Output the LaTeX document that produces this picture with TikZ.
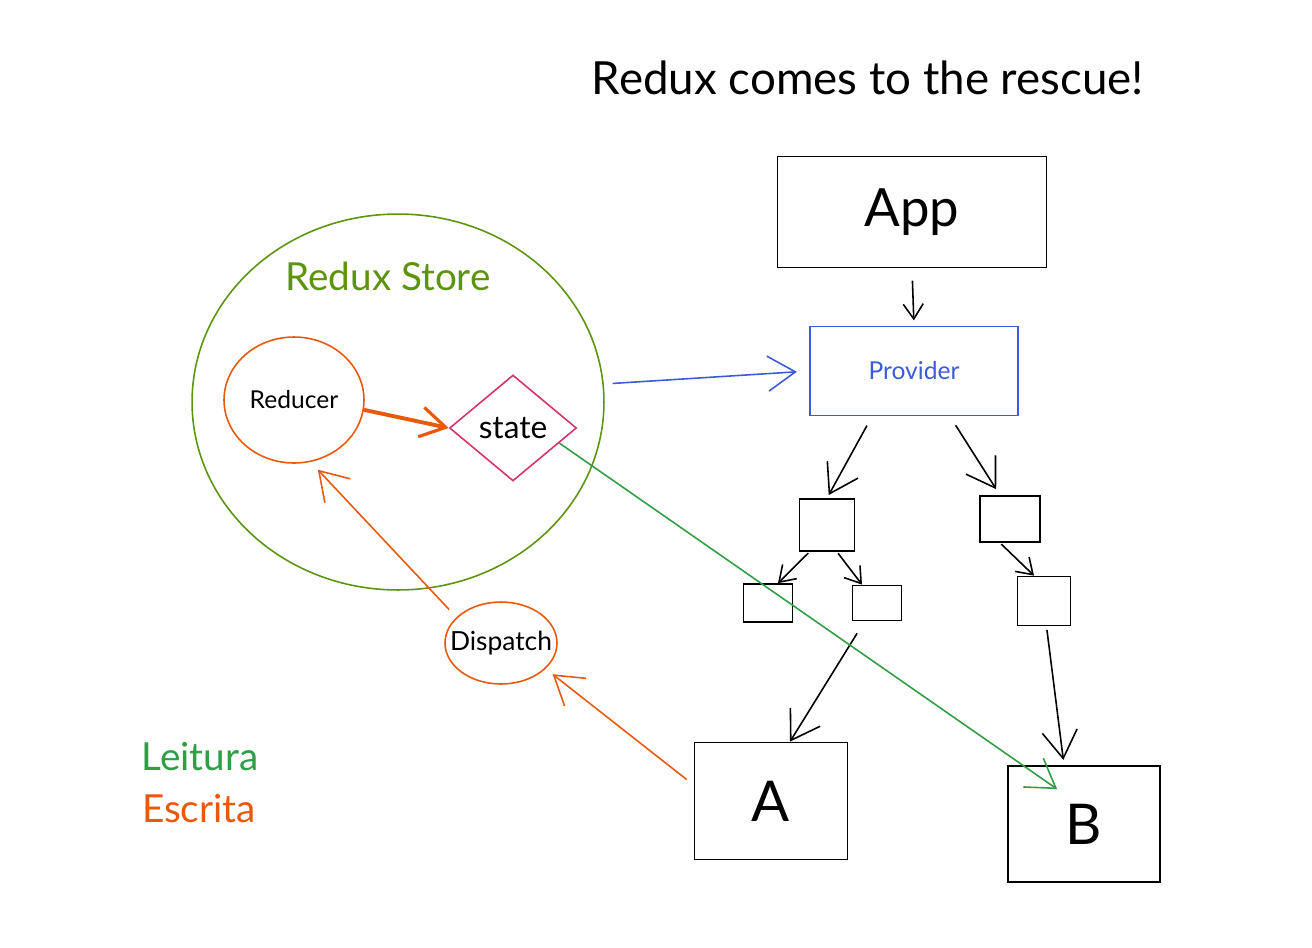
\documentclass[tikz,border=0pt]{standalone}
\usepackage{fontspec}
\setmainfont{Lato}
\usetikzlibrary{arrows.meta, positioning, shapes.geometric, calc}

\definecolor{storegreen}{HTML}{5C940D}
\definecolor{readgreen}{HTML}{2F9E44}
\definecolor{writered}{HTML}{E8590C}
\definecolor{provblue}{HTML}{3B5BDB}
\definecolor{statered}{HTML}{D6336C}

\tikzset{
  box/.style={draw, line width=1pt, inner sep=0pt},
  blob/.style={draw, ellipse, line width=0.9pt, inner sep=0pt},
  arr/.style={-{Straight Barb[length=5.5mm, width=7mm, line width=0.9pt]}, line width=0.9pt},
  small arr/.style={-{Straight Barb[length=3mm, width=4mm, line width=0.9pt]}, line width=0.9pt},
  thick arr/.style={-{Straight Barb[length=5mm, width=6mm, line width=1.8pt]}, line width=2.2pt},
  txt/.style={font=\fontsize{#1}{#1}\selectfont},
}

\begin{document}
\begin{tikzpicture}[x=0.02cm, y=-0.02cm]
\useasboundingbox (0,0) rectangle (1312,947);

% Title
\node [txt=26] (title) at (868,78) {Redux comes to the rescue!};

% The component tree
\node [box, minimum width=5.38cm, minimum height=2.22cm, txt=30] (app) at (912,212) {App};
\node [box, draw=provblue, text=provblue, minimum width=4.16cm, minimum height=1.78cm, txt=14] (provider) at (914,371) {Provider};
\node [box, minimum width=1.1cm, minimum height=1.04cm] (l1) at (827,525) {};
\node [box, minimum width=1.2cm, minimum height=0.92cm] (r1) at (1010,519) {};
\node [box, minimum width=0.98cm, minimum height=0.76cm] (l2a) at (768,603) {};
\node [box, minimum width=0.98cm, minimum height=0.7cm] (l2b) at (877,603) {};
\node [box, minimum width=1.06cm, minimum height=0.98cm] (r2) at (1044,601) {};
\node [box, minimum width=3.06cm, minimum height=2.34cm, txt=32] (a) at (771,801) {A};
\node [box, minimum width=3.04cm, minimum height=2.32cm, txt=32] (b) at (1084,824) {B};

% The store
\node [blob, draw=storegreen, minimum width=8.24cm, minimum height=7.52cm] (store) at (398,402) {};
\node [txt=22, text=storegreen] (storelabel) at (388,276) {Redux Store};
\node [blob, draw=writered, minimum width=2.8cm, minimum height=2.52cm, txt=14] (reducer) at (294,400) {Reducer};
\node [diamond, draw=statered, line width=0.9pt, minimum width=2.54cm, minimum height=2.12cm, aspect=1.2, inner sep=0pt, txt=18] (state) at (513,428) {state};
\node [blob, draw=writered, inner xsep=-9pt, inner ysep=-4pt, minimum width=2.24cm, minimum height=1.64cm, txt=15] (dispatch) at (501,643) {Dispatch};

% Legend
\node [txt=22, text=readgreen] (leitura) at (200,757) {Leitura};
\node [txt=22, text=writered] (escrita) at (199,809) {Escrita};

% Tree arrows
\draw [small arr, shorten <=7pt, shorten >=3pt] (app.south) -- (provider.north);
\draw [arr, shorten <=6pt, shorten >=2pt] ([xshift=-0.84cm]provider.south) -- (l1.north);
\draw [arr, shorten <=6pt, shorten >=4pt] ([xshift=0.72cm]provider.south) -- ([xshift=-0.2cm]r1.north);
\draw [small arr, shorten <=1pt] ([xshift=-0.35cm]l1.south) -- ([xshift=0.2cm]l2a.north);
\draw [small arr, shorten <=1pt] ([xshift=0.2cm]l1.south) -- ([xshift=-0.3cm]l2b.north);
\draw [small arr, shorten <=1pt] ([xshift=-0.2cm]r1.south) -- ([xshift=-0.2cm]r2.north);
\draw [arr, shorten <=8pt] ([xshift=-0.25cm]l2b.south) -- ([xshift=0.38cm]a.north);
\draw [arr, shorten <=2pt, shorten >=3pt] ([xshift=0.05cm]r2.south) -- ([xshift=-0.4cm]b.north);

% Reading and writing
\draw [arr, provblue, shorten <=5pt, shorten >=7pt] (store.5) -- (provider.west);
\draw [arr, readgreen] (state.-18) -- ([xshift=1cm, yshift=-0.48cm]b.north west);
\draw [thick arr, writered] (reducer.-8) -- (state.west);
\draw [arr, writered, shorten <=6pt, shorten >=6pt] (dispatch.150) -- (reducer.-75);
\draw [arr, writered, shorten <=5pt, shorten >=5pt] ([yshift=0.32cm]a.west) -- (dispatch.-30);

\end{tikzpicture}
\end{document}
